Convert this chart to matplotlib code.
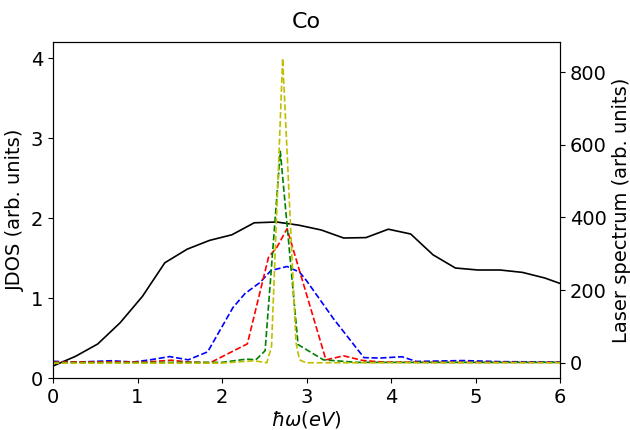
import matplotlib
matplotlib.use("Agg")
import matplotlib.pyplot as plt

# JDOS (left axis)
jdos_x = [0.0, 0.265, 0.529, 0.794, 1.058, 1.323, 1.587, 1.852, 2.117, 2.381, 2.646, 2.910,
          3.175, 3.439, 3.704, 3.968, 4.233, 4.497, 4.762, 5.027, 5.291, 5.556, 5.820, 6.085]
jdos_y = [0.15, 0.27, 0.425, 0.69, 1.02, 1.44, 1.61, 1.72, 1.79, 1.94, 1.95, 1.91,
          1.85, 1.75, 1.755, 1.86, 1.80, 1.54, 1.375, 1.35, 1.35, 1.32, 1.25, 1.15]

# Laser spectra (right axis)
blue_x = [0.0, 0.26, 0.69, 0.95, 1.15, 1.38, 1.60, 1.83, 2.13, 2.27, 2.45, 2.58, 2.77,
          2.92, 3.0, 3.32, 3.68, 3.87, 4.13, 4.30, 4.85, 5.3, 6.0]
blue_y = [4, 1.5, 5.5, 2, 8, 17, 8, 30, 152, 190, 221, 254, 265,
          249, 226, 121, 14, 13, 16.5, 3.6, 6, 3, 2]

red_x = [0.0, 0.7, 1.1, 1.4, 1.6, 1.86, 2.30, 2.55, 2.65, 2.77, 3.23, 3.44, 3.67, 3.9, 4.5, 6.0]
red_y = [2, 2.5, 2, 7, 2, 0, 52, 290, 318, 369, 8, 19, 6, 2, 1, 1]

green_x = [0.0, 1.0, 1.5, 2.0, 2.29, 2.40, 2.51, 2.69, 2.90, 3.20, 3.6, 4.5, 6.0]
green_y = [0.5, 0.5, 1, 1, 10, 8, 33, 582, 50, 8, 1, 1, 1]

yellow_x = [0.0, 1.0, 2.0, 2.38, 2.53, 2.586, 2.718, 2.876, 2.917, 2.994, 4.0, 6.0]
yellow_y = [-1, -1, -1, 5.5, 0, 44, 838, 55, 8, 0, 0, 0]

fig = plt.figure(figsize=(6.3, 4.3), dpi=100)
ax = fig.add_axes([53/630, 1-378/430, (560-53)/630, (378-42)/430])
ax.plot(jdos_x, jdos_y, color='k', lw=1.2)
ax.set_xlim(0, 6)
ax.set_ylim(0, 4.2)
ax.set_xticks([0, 1, 2, 3, 4, 5, 6])
ax.set_yticks([0, 1, 2, 3, 4])
ax.tick_params(labelsize=14)
ax.set_xlabel(r'$\hbar\omega(eV)$', fontsize=14, labelpad=2)
ax.set_ylabel('JDOS (arb. units)', fontsize=14)
ax.set_title('Co', fontsize=16, pad=10)

ax2 = ax.twinx()
ax2.plot(blue_x, blue_y, 'b--', lw=1.2)
ax2.plot(red_x, red_y, 'r--', lw=1.2)
ax2.plot(green_x, green_y, 'g--', lw=1.2)
ax2.plot(yellow_x, yellow_y, 'y--', lw=1.2)
ax2.set_ylim(-42, 883)
ax2.set_yticks([0, 200, 400, 600, 800])
ax2.tick_params(labelsize=14)
ax2.set_ylabel('Laser spectrum (arb. units)', fontsize=14)

fig.savefig('out.png', dpi=100)
